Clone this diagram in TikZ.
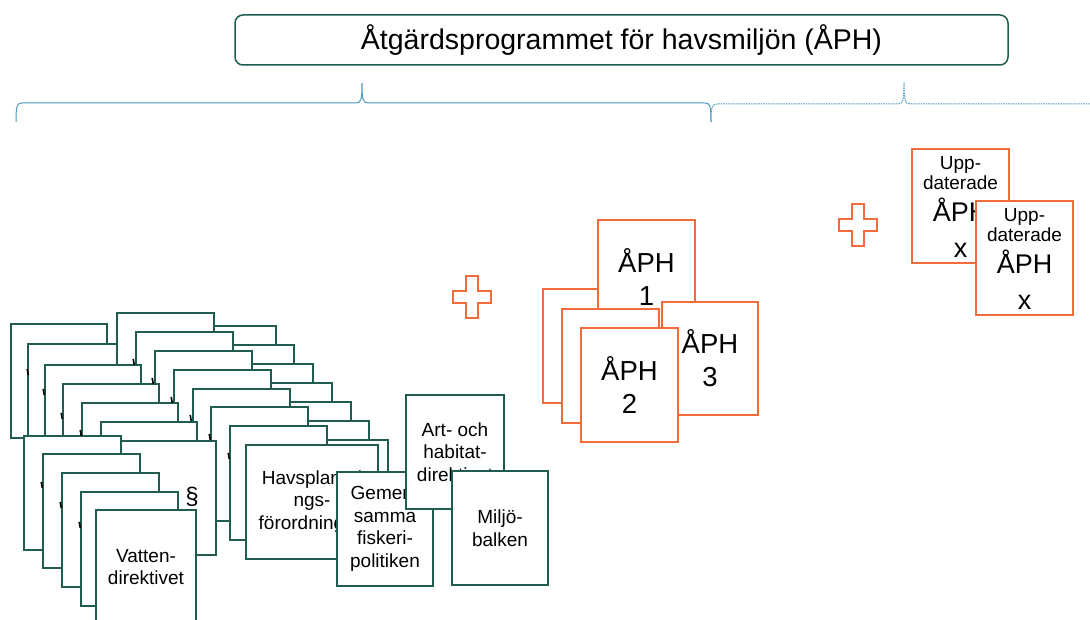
\documentclass[tikz,border=0pt]{standalone}
\usepackage{fontspec}
\setmainfont{Liberation Sans}
\usepackage{tikz}
\usetikzlibrary{positioning,calc}
\definecolor{lawgreen}{HTML}{215C50}
\definecolor{aphorange}{HTML}{F26B3A}
\definecolor{braceblue}{HTML}{4F97C0}

\begin{document}
\begin{tikzpicture}[x=1pt,y=-1pt,
  lawsheet/.style={draw=lawgreen,line width=1.8pt,fill=white,anchor=north west,outer sep=0pt,inner sep=0pt,
    minimum width=97pt,minimum height=114pt,align=center,font=\fontsize{19}{22.5}\selectfont},
  aphsheet/.style={draw=aphorange,line width=1.8pt,fill=white,anchor=north west,outer sep=0pt,inner sep=0pt,
    minimum width=97pt,minimum height=114pt,align=center,font=\fontsize{27.5}{33}\selectfont},
  plusmark/.style={draw=aphorange,line width=1.5pt,fill=white},
  bracestroke/.style={draw=braceblue,line width=1pt},
  frag/.style={line width=1.6pt}]
\useasboundingbox (0,0) rectangle (1090,620);

\node[draw=lawgreen,line width=1.5pt,rounded corners=8pt,minimum width=773pt,minimum height=50pt,
  font=\fontsize{28.5}{32}\selectfont] (title) at (621.5,40) {Åtgärdsprogrammet för havsmiljön (ÅPH)};

\draw[bracestroke] (16,122) .. controls (16,106) and (17,103) .. (22,103) -- (356,103)
  .. controls (361,103) and (362,100) .. (362,83) .. controls (362,100) and (363,103) .. (368,103)
  -- (705,103) .. controls (710,103) and (711,106) .. (711,122);
\draw[bracestroke,dash pattern=on 1.5pt off 1pt] (711,122) .. controls (711,107) and (712,104) .. (717,104) -- (898,104)
  .. controls (903,104) and (904,100) .. (904,82) .. controls (904,100) and (905,104) .. (910,104)
  -- (1090,104);

\foreach \r/\t [count=\i] in {276/326,294/345,313/364,332/383,351/402,369/421,388/440}
  \node[lawsheet] (c\i) at (\r-97,\t) {};
\node[lawsheet,minimum width=96pt] (a1) at (11,324) {};
\node[lawsheet,minimum width=96pt] (a2) at (28,344) {};
\foreach \x/\y [count=\i] in {117/313,136/332,155/351,174/370,193/389,211/407,230/426}
  \node[lawsheet] (b\i) at (\x,\y) {};
\node[lawsheet,minimum width=132pt] (havsplan) at (246,445) {Havsplaneri\\ngs-\\förordningen};
\foreach \x/\y [count=\i from 3] in {45/365,63/384,82/403,101/422,120/441}
  \node[lawsheet,minimum width=96pt] (a\i) at (\x,\y) {};
\node[font=\fontsize{24}{24}\selectfont] (para) at (192,497) {§};
\foreach \x/\y [count=\i] in {24/436,43/454,62/473,81/492}
  \node[lawsheet] (d\i) at (\x,\y) {};
\node[lawsheet,minimum width=100pt] (vatten) at (96,510) {Vatten-\\direktivet};
\node[lawsheet,minimum width=96pt] (fiske) at (337,472) {Gemen-\\samma\\fiskeri-\\politiken};
\node[lawsheet,minimum width=98pt] (art) at (406,395) {Art- och\\habitat-\\direktivet};
\node[lawsheet,minimum width=96pt] (miljo) at (452,471) {Miljö-\\balken};
\foreach \x/\y in {28/372,44/392,62/416,81/433,134/362,153/381,172/400,191/418,210/437,229/456,42/485,61/505,80/525}
  \draw[frag] (\x-0.8,\y-3) -- (\x+0.3,\y+3);

\node[aphsheet] (aph0) at (543,289) {};
\node[aphsheet] (aph1) at (598,220) {ÅPH\\1};
\node[aphsheet] (aphb) at (562,309) {};
\node[aphsheet,minimum width=96pt,minimum height=113pt] (aph3) at (662,302) {ÅPH\\3};
\node[aphsheet] (aph2) at (581,328) {ÅPH\\2};

\foreach \dx/\dy in {0/0,386/-72}
  \draw[plusmark,shift={(\dx,\dy)}] (466,276) -- (478,276) -- (478,291) -- (491,291) -- (491,303) -- (478,303)
    -- (478,318) -- (466,318) -- (466,303) -- (453,303) -- (453,291) -- (466,291) -- cycle;

\node[aphsheet] (upd1) at (912,149) {};
\node[font=\fontsize{19}{20}\selectfont,align=center] (upd1a) at ([yshift=-24pt]upd1.north) {Upp-\\daterade};
\node[font=\fontsize{27}{36}\selectfont,align=center] (upd1b) at ([yshift=-79pt]upd1.north) {ÅPH\\x};
\node[aphsheet] (upd2) at (976,201) {};
\node[font=\fontsize{19}{20}\selectfont,align=center] (upd2a) at ([yshift=-24pt]upd2.north) {Upp-\\daterade};
\node[font=\fontsize{27}{36}\selectfont,align=center] (upd2b) at ([yshift=-79pt]upd2.north) {ÅPH\\x};
\end{tikzpicture}
\end{document}
